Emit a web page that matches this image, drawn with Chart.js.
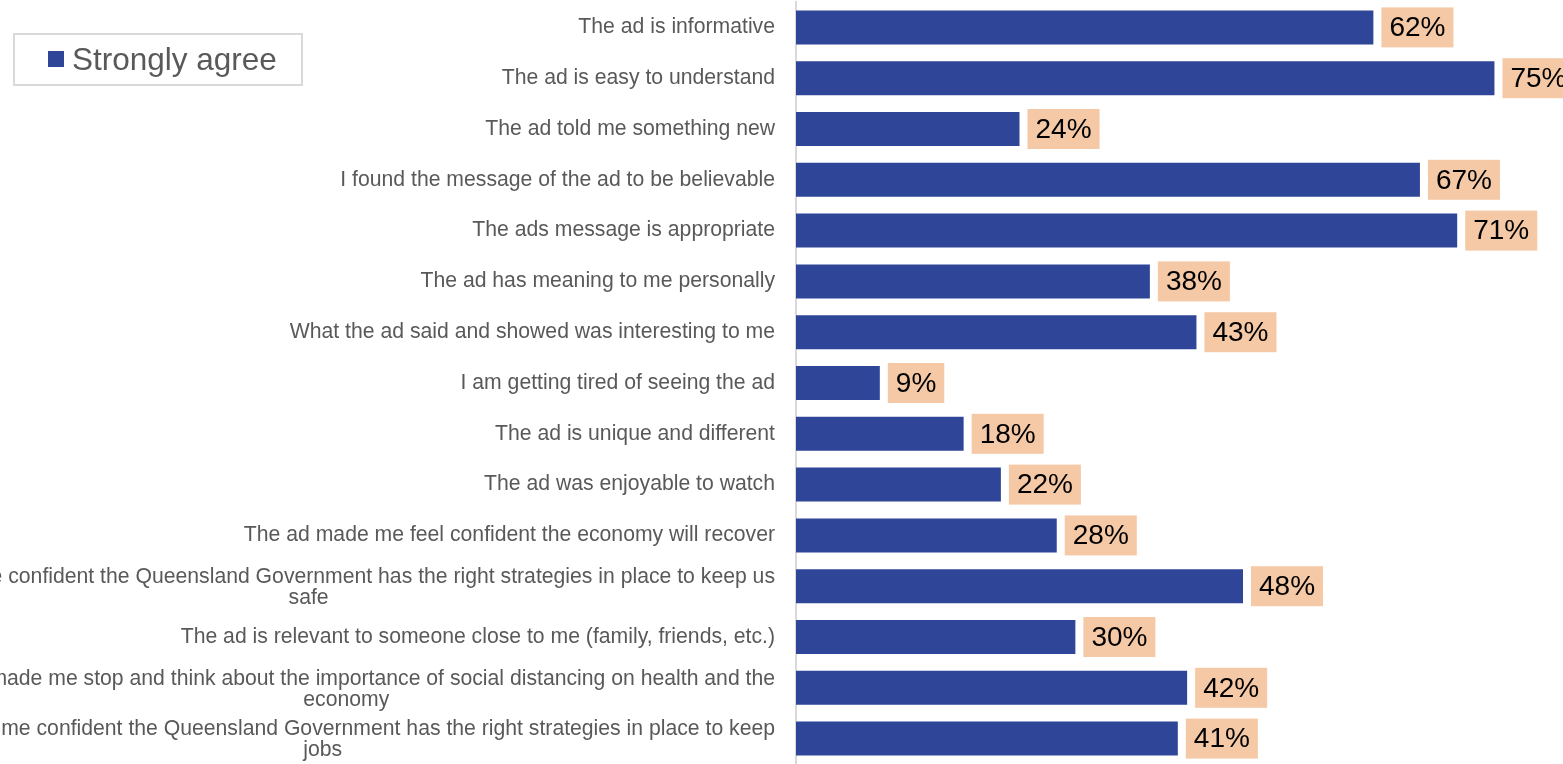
<!DOCTYPE html>
<html>
<head>
<meta charset="utf-8">
<script src="https://cdn.jsdelivr.net/npm/chart.js@4/dist/chart.umd.min.js"></script>
<style>
  html, body { margin: 0; padding: 0; background: #fff; }
  #wrap { position: relative; width: 1563px; height: 764px; }
</style>
</head>
<body>
<div id="wrap"><canvas id="agreeChart"></canvas></div>
<script>
// Chart data
const statements = [
  'The ad is informative',
  'The ad is easy to understand',
  'The ad told me something new',
  'I found the message of the ad to be believable',
  'The ads message is appropriate',
  'The ad has meaning to me personally',
  'What the ad said and showed was interesting to me',
  'I am getting tired of seeing the ad',
  'The ad is unique and different',
  'The ad was enjoyable to watch',
  'The ad made me feel confident the economy will recover',
  ['The ad made me confident the Queensland Government has the right strategies in place to keep us', 'safe'],
  'The ad is relevant to someone close to me (family, friends, etc.)',
  ['The ad made me stop and think about the importance of social distancing on health and the', 'economy'],
  ['The ad made me confident the Queensland Government has the right strategies in place to keep', 'jobs']
];
const stronglyAgree = [62, 75, 24, 67, 71, 38, 43, 9, 18, 22, 28, 48, 30, 42, 41];
const seriesName = 'Strongly agree';

const FONT = "'Liberation Sans', Arial, sans-serif";
const BAR_COLOR = '#2F4698';
const LABEL_BG = '#F6C9A6';

// category labels, right edge at 775, wrapped lines centred on each other
const categoryLabels = {
  id: 'categoryLabels',
  afterDraw(chart) {
    const ctx = chart.ctx;
    const y = chart.scales.y;
    ctx.save();
    ctx.font = '21.2px ' + FONT;
    ctx.fillStyle = '#595959';
    ctx.textAlign = 'center';
    ctx.textBaseline = 'middle';
    statements.forEach((lbl, i) => {
      const lines = Array.isArray(lbl) ? lbl : [lbl];
      const w = Math.max(...lines.map(l => ctx.measureText(l).width));
      const cx = 775 - w / 2;
      const cy = y.getPixelForValue(i);
      const lh = 21;
      const top = cy - (lines.length - 1) * lh / 2 + (lines.length > 1 ? 1.5 : 0);
      lines.forEach((l, k) => ctx.fillText(l, cx, top + k * lh));
    });
    ctx.restore();
  }
};

// value boxes next to bar ends
const valueBoxes = {
  id: 'valueBoxes',
  afterDatasetsDraw(chart) {
    const ctx = chart.ctx;
    const meta = chart.getDatasetMeta(0);
    ctx.save();
    ctx.font = '28px ' + FONT;
    ctx.textBaseline = 'middle';
    ctx.textAlign = 'left';
    meta.data.forEach((bar, i) => {
      const txt = stronglyAgree[i] + '%';
      const tw = ctx.measureText(txt).width;
      const bx = bar.x + 8;
      ctx.fillStyle = LABEL_BG;
      ctx.fillRect(bx, bar.y - 20, tw + 16, 40);
      ctx.fillStyle = '#000';
      ctx.fillText(txt, bx + 8, bar.y + 1);
    });
    ctx.restore();
  }
};

// boxed legend top left
const boxLegend = {
  id: 'boxLegend',
  afterDraw(chart) {
    const ctx = chart.ctx;
    ctx.save();
    ctx.strokeStyle = '#D9D9D9';
    ctx.lineWidth = 2;
    ctx.strokeRect(14, 34, 288, 51);
    ctx.fillStyle = BAR_COLOR;
    ctx.fillRect(48, 51, 16, 16);
    ctx.font = '31.5px ' + FONT;
    ctx.fillStyle = '#595959';
    ctx.textBaseline = 'alphabetic';
    ctx.fillText(chart.data.datasets[0].label, 72, 69.5);
    ctx.restore();
  }
};

new Chart(document.getElementById('agreeChart'), {
  type: 'bar',
  data: {
    labels: statements.map(s => Array.isArray(s) ? s.join(' ') : s),
    datasets: [{
      label: seriesName,
      data: stronglyAgree,
      backgroundColor: BAR_COLOR,
      borderWidth: 0,
      categoryPercentage: 1,
      barPercentage: 0.67
    }]
  },
  options: {
    indexAxis: 'y',
    responsive: true,
    maintainAspectRatio: false,
    animation: false,
    layout: { padding: { top: 2, right: 22, bottom: 0, left: 0 } },
    plugins: {
      legend: { display: false },
      tooltip: { enabled: false }
    },
    scales: {
      x: {
        display: false,
        min: 0,
        max: 80
      },
      y: {
        grid: { display: false, drawTicks: false },
        border: { display: true, color: '#D9D9D9', width: 2 },
        ticks: { display: false },
        afterFit(scale) { scale.width = 796; }
      }
    }
  },
  plugins: [categoryLabels, valueBoxes, boxLegend]
});
</script>
</body>
</html>
